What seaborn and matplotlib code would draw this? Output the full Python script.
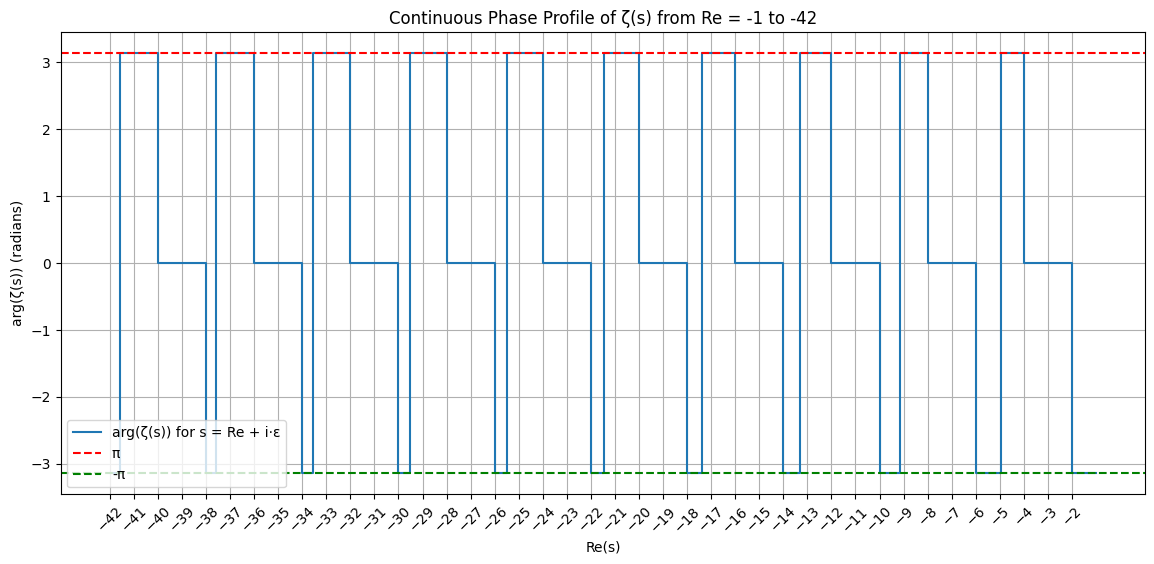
import numpy as np
import pandas as pd
import matplotlib
matplotlib.use("Agg")
import matplotlib.pyplot as plt
import seaborn as sns

PI = np.pi

# Breakpoints along Re(s) where the phase changes
re_breaks = [-42.0, -41.58, -40.0, -38.0, -37.58, -36.0, -34.0, -33.55, -32.0,
             -30.0, -29.50, -28.0, -26.0, -25.48, -24.0, -22.0, -21.44, -20.0,
             -18.0, -17.40, -16.0, -14.0, -13.29, -12.0, -10.0, -9.16, -8.0,
             -6.0, -4.94, -4.0, -2.0, -1.0]
# Phase value (in units of pi) holding from each breakpoint to the next
phase_units = [-1, 1, 0, -1, 1, 0, -1, 1, 0,
               -1, 1, 0, -1, 1, 0, -1, 1, 0,
               -1, 1, 0, -1, 1, 0, -1, 1, 0,
               -1, 1, 0, -1, -1]
tick_values = list(range(-42, -1))

df = pd.DataFrame({"re": re_breaks, "arg": np.array(phase_units) * PI})

fig = plt.figure(figsize=(11.54, 5.64), dpi=100)
ax = fig.add_axes([60.5 / 1154, 1 - 494.3 / 564, (1145.3 - 60.5) / 1154, (494.3 - 32) / 564])

sns.lineplot(data=df, x="re", y="arg", ax=ax, drawstyle="steps-post",
             color="#1f77b4", linewidth=1.5, estimator=None, sort=False,
             label="arg(ζ(s)) for s = Re + i·ε")
ax.axhline(PI, color="red", linestyle="--", linewidth=1.5, label="π")
ax.axhline(-PI, color="green", linestyle="--", linewidth=1.5, label="-π")

ax.set_xlim(-44.05, 1.05)
ax.set_ylim(-1.1 * PI, 1.1 * PI)
ax.set_xticks(tick_values)
ax.tick_params(axis="x", labelrotation=45)
ax.set_title("Continuous Phase Profile of ζ(s) from Re = -1 to -42", fontsize=12)
ax.set_xlabel("Re(s)")
ax.set_ylabel("arg(ζ(s)) (radians)")
ax.grid(True, color="#b0b0b0", linewidth=0.8)
ax.legend(loc="lower left")

fig.savefig("out.png", dpi=100)
